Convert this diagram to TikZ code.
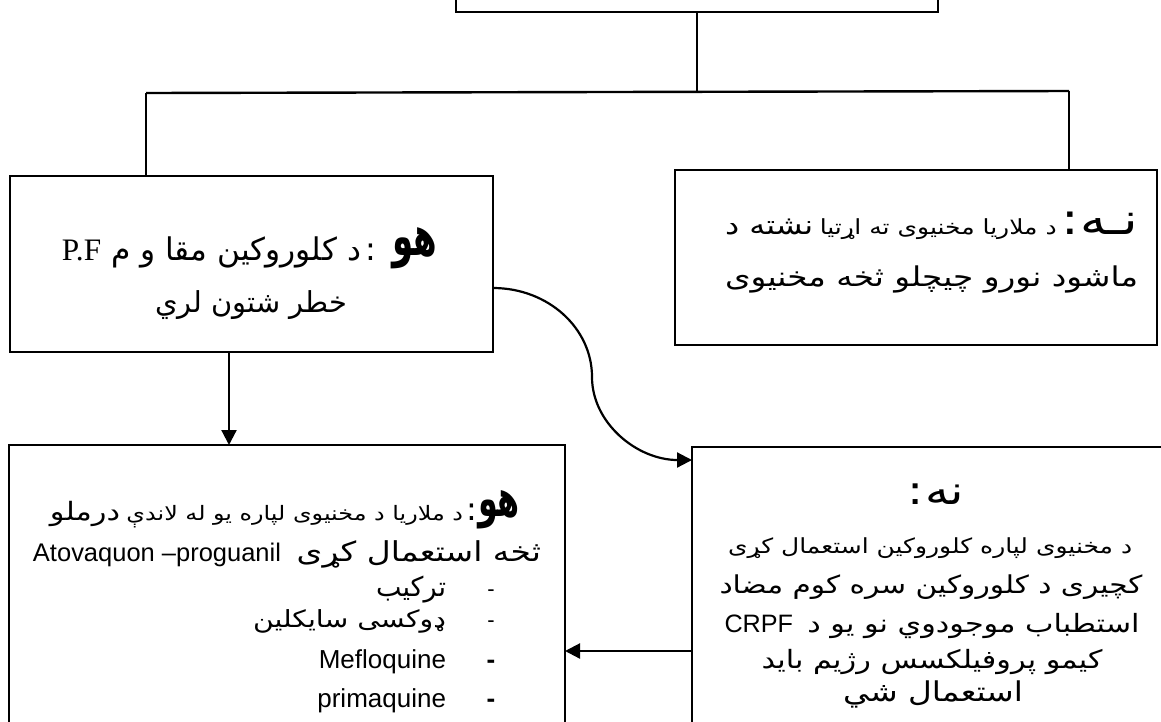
\documentclass[tikz,border=0pt]{standalone}
\usepackage{fontspec}
\usetikzlibrary{arrows.meta}
\TeXXeTstate=1
\newfontfamily\ar[Script=Arabic]{DejaVu Sans}
\newfontfamily\lsans{Liberation Sans}
\newfontfamily\lserif{Liberation Serif}
\newcommand\fs[1]{\fontsize{#1}{#1}\selectfont}
\newcommand\fitto[2]{\resizebox{#1}{!}{#2}}
\newcommand\AR[2]{\scalebox{1.2}[1]{\ar\fs{#1}#2}}
\newcommand\BIG[2]{\resizebox{#1}{!}{\scalebox{0.62}[1]{\ar\fs{50}\bfseries #2}}}
\begin{document}
\begin{tikzpicture}[x=1pt,y=1pt,
  box/.style={draw,line width=2.4pt,inner sep=0pt,outer sep=0pt},
  conn/.style={line width=2.4pt},
  arr/.style={line width=2.2pt,-{Triangle[length=15pt,width=15pt]}},
  txt/.style={inner sep=0pt,outer sep=0pt,anchor=base},
  txte/.style={inner sep=0pt,outer sep=0pt,anchor=base east}]
\useasboundingbox (0,0) rectangle (1161,-721);
\clip (0,0) rectangle (1161,-721);
% boxes
\node[box,minimum width=482pt,minimum height=60pt] (T) at (697,18) {};
\node[box,minimum width=483pt,minimum height=176pt] (L) at (251.5,-264) {};
\node[box,minimum width=482pt,minimum height=175pt] (R) at (916,-257.5) {};
\node[box,minimum width=556pt,minimum height=320pt] (BL) at (287,-605) {};
\node[box,minimum width=480pt,minimum height=320pt] (BR) at (932,-607) {};
% tree connectors
\coordinate (hm) at (697,-92);
\coordinate (hl) at (146,-93);
\coordinate (hr) at (1069,-91);
\draw[conn] (T.south) -- (hm);
\draw[conn] (hl) -- (hr);
\draw[conn] (hl) -- (hl |- L.north);
\draw[conn] (hr) -- (hr |- R.north);
% arrows
\coordinate (dl) at (229,0);
\draw[arr] (dl |- L.south) -- (dl |- BL.north);
\path (L.east) ++(0,-24) coordinate (cs);
\path (BR.north west) ++(0,-13) coordinate (ce);
\draw[arr] (cs) .. controls +(55,0) and +(0,49) .. (592,-377) coordinate (cm)
  .. controls +(0,-46) and +(-55,0) .. (ce);
\coordinate (hy) at (0,-651);
\draw[arr] (BR.west |- hy) -- (BL.east |- hy);
% texts: top-left box
\node[txte] (tlh) at (437,-255) {\BIG{45pt}{\beginR هو\endR}};
\node[txt] (tlc) at (371,-260) {\ar\fs{32}:};
\node[txte] (tl1) at (361,-260) {\fitto{299pt}{\ar\beginR{\fs{30}د کلوروکين مقا و م }\beginL{\lserif\fs{30}P.F}\endL\endR}};
\node[txt] (tl2) at (251,-312) {\fitto{192pt}{\ar\fs{30}\beginR خطر شتون لري\endR}};
% right box
\node[txte] (r1) at (1138,-234) {\fitto{413pt}{\AR{28}{\beginR نشته د\endR}\kern7pt\AR{22}{\beginR د ملاريا مخنيوی ته اړتيا\endR}\kern5pt\AR{46}{\beginR نـه\kern1pt:\endR}}};
\node[txte] (r2) at (1138,-286) {\fitto{413pt}{\AR{28}{\beginR ماشود نورو چيچلو ثخه مخنيوی\endR}}};
% bottom-left box
\node[txte] (blh) at (520,-516) {\BIG{42pt}{\beginR هو\endR}};
\node[txt] (blc) at (472,-520) {\ar\fs{32}:};
\node[txte] (bl1) at (463,-520) {\fitto{413pt}{\AR{28}{\beginR درملو\endR}\kern7pt\AR{22}{\beginR د ملاريا د مخنيوی لپاره يو له لاندې\endR}}};
\node[txte] (bl2) at (541,-561) {\fitto{508pt}{{\lsans\fs{26}Atovaquon –proguanil}\kern16pt\AR{28}{\beginR ثخه استعمال کړی\endR}}};
\node[txte] (li1) at (446,-596) {\ar\fs{27}\beginR ترکيب\endR};
\node[txte] (li2) at (446,-627) {\fitto{193pt}{\AR{26}{\beginR ډوکسی سايکلين\endR}}};
\node[txte] (li3) at (446,-668) {\lsans\fs{26}Mefloquine};
\node[txte] (li4) at (446,-707) {\lsans\fs{26}primaquine};
\node[txt] (d1) at (491,-596) {\lsans\fs{22}-};
\node[txt] (d2) at (491,-627) {\lsans\fs{22}-};
\node[txt] (d3) at (491,-668) {\lsans\fs{26}\bfseries -};
\node[txt] (d4) at (491,-707) {\lsans\fs{26}\bfseries -};
% bottom-right box
\node[txt] (br1) at (936,-504) {\AR{40}{\beginR نه\kern1pt:\endR}};
\node[txt] (br2) at (930,-553) {\fitto{404pt}{\AR{22}{\beginR د مخنيوی لپاره کلوروکين استعمال کړی\endR}}};
\node[txt] (br3) at (931,-593) {\fitto{423pt}{\AR{28}{\beginR کچيری د کلوروکين سره کوم مضاد\endR}}};
\node[txt] (br4) at (932,-632) {\fitto{415pt}{{\lsans\fs{28}CRPF}\kern16pt\AR{28}{\beginR استطباب موجودوي نو يو د\endR}}};
\node[txt] (br5) at (932,-668) {\fitto{341pt}{\AR{28}{\beginR کيمو پروفيلکسس رژيم بايد\endR}}};
\node[txt] (br6) at (933,-701) {\fitto{180pt}{\AR{28}{\beginR استعمال شي\endR}}};
\end{tikzpicture}
\end{document}
